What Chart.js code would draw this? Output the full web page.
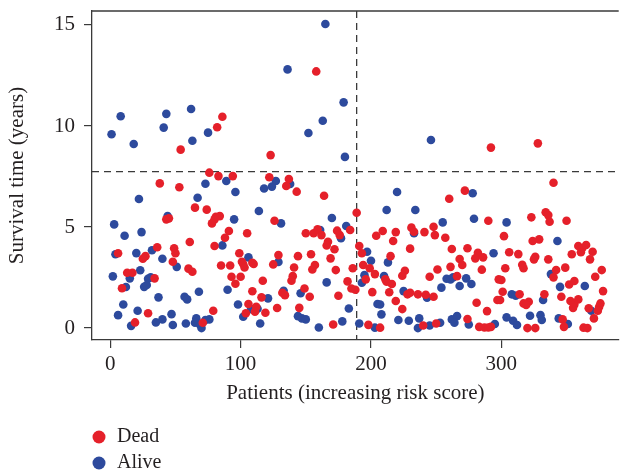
<!DOCTYPE html>
<html>
<head>
<meta charset="utf-8">
<script src="https://cdn.jsdelivr.net/npm/chart.js@4.4.1/dist/chart.umd.min.js"></script>
<style>
  html, body { margin: 0; padding: 0; background: #fff; }
  #wrap { width: 623px; height: 474px; }
</style>
</head>
<body>
<div id="wrap"><canvas id="riskPlot"></canvas></div>
<script>
// patients ordered by risk score (x) and their survival time in years (y)
const deadX = [158, 86, 82, 54, 123, 292, 328,
  38, 43, 45, 6, 36, 27, 25, 49, 50, 48, 13, 17, 34, 9, 29, 19,
  53, 76, 83, 94, 65, 74, 81, 84, 80, 78, 91, 105, 88, 61, 80, 99, 101, 102, 103, 109, 110, 85, 92, 60, 63, 93, 100, 96, 109, 116, 106, 112, 104, 111, 79, 71,
  122, 137, 135, 143, 164, 126, 150, 156, 159, 162, 174, 176, 184, 167, 166, 172, 129, 125, 144, 154, 169, 141, 140, 139, 157, 155, 173, 182, 117, 149, 153, 132, 134, 175, 119, 128, 145, 171,
  189, 209, 204, 219, 217, 231, 233, 241, 248, 249, 230, 191, 193, 215, 194, 199, 203, 196, 186, 226, 224, 245, 251, 211, 212, 216, 185, 188, 201, 214, 228, 230, 236, 242, 248, 219, 224, 198, 207, 240, 250,
  272, 260, 290, 257, 302, 262, 274, 268, 270, 282, 280, 286, 306, 313, 261, 285, 303, 316, 317, 266, 298, 300, 281, 289, 297, 299, 301, 314, 317, 274, 283, 287, 290, 292,
  340, 323, 334, 336, 337, 350, 324, 329, 326, 325, 336, 359, 362, 365, 361, 370, 368, 354, 349, 342, 340, 377, 372, 352, 356, 378, 333, 346, 321, 319, 353, 356, 359, 355, 376, 375, 374, 367, 371, 347, 348, 320, 326, 363, 366];
const deadY = [12.7, 10.46, 9.94, 8.83, 8.56, 8.93, 9.14,
  7.16, 5.38, 5.43, 3.7, 4.0, 3.56, 3.43, 3.95, 3.7, 3.28, 2.74, 2.74, 2.46, 1.97, 0.73, 0.28,
  6.97, 7.69, 7.52, 7.52, 5.96, 5.86, 5.51, 5.54, 5.38, 5.18, 4.8, 4.69, 4.47, 4.26, 4.06, 3.7, 3.28, 3.17, 3.0, 3.23, 3.17, 3.1, 3.1, 2.94, 2.79, 2.54, 2.54, 2.19, 1.82, 1.52, 1.19, 1.05, 0.73, 0.81, 0.86, 0.26,
  7.46, 7.38, 7.03, 6.75, 6.55, 5.31, 4.69, 4.69, 4.89, 4.6, 4.82, 4.6, 4.85, 4.27, 4.09, 3.9, 3.61, 3.15, 3.56, 3.65, 3.45, 3.0, 2.57, 2.34, 3.12, 2.9, 2.87, 2.31, 2.34, 1.96, 1.55, 1.75, 1.63, 1.6, 0.76, 0.99, 1.0, 0.18,
  5.71, 4.8, 4.57, 4.75, 4.31, 4.97, 4.77, 4.75, 5.01, 4.6, 3.93, 4.06, 3.7, 3.56, 3.12, 2.96, 2.67, 2.41, 2.96, 2.84, 2.59, 2.54, 2.9, 2.41, 2.29, 2.18, 1.96, 1.9, 1.78, 1.77, 1.67, 1.75, 1.67, 1.65, 1.55, 1.34, 0.94, 0.16, 0.02, 0.13, 0.23,
  6.8, 6.4, 5.31, 4.47, 4.55, 3.91, 3.95, 3.42, 3.12, 3.73, 3.45, 3.5, 3.75, 3.66, 3.03, 2.89, 2.96, 3.13, 2.96, 2.57, 2.41, 2.38, 1.25, 0.84, 1.39, 1.39, 1.8, 1.67, 1.22, 0.45, 0.06, 0.03, 0.03, 0.06,
  7.19, 5.48, 5.73, 5.59, 5.26, 5.31, 4.31, 4.39, 3.53, 3.4, 3.4, 4.06, 3.95, 4.11, 3.75, 3.78, 3.4, 3.65, 2.99, 2.87, 2.51, 2.87, 2.54, 2.16, 2.33, 1.83, 1.67, 1.55, 1.3, 1.14, 1.34, 1.17, 1.42, 1.0, 1.22, 1.05, 0.86, 0.98, 0.48, 0.43, 0.06, 0.0, 0.0, 0.02, 0.0];

const aliveX = [165, 136, 179, 8, 43, 62, 1, 41, 18, 63, 75, 163, 152, 180, 246,
  22, 44, 3, 11, 24, 4, 20, 32, 40, 51, 2, 15, 23, 31, 29, 12, 26, 28, 37, 10, 21, 6, 16, 35, 40, 47, 48,
  89, 73, 96, 67, 114, 95, 86, 106, 90, 68, 57, 59, 98, 108, 113, 102, 115, 66, 65, 69, 70, 73, 76, 58,
  127, 124, 118, 138, 170, 181, 131, 161, 177, 129, 166, 146, 133, 121, 183, 144, 147, 150, 160, 178,
  220, 212, 234, 233, 197, 200, 213, 195, 193, 210, 225, 243, 205, 207, 208, 191, 221, 229, 237, 236, 245, 203,
  278, 255, 279, 304, 294, 258, 261, 263, 254, 268, 273, 277, 308, 311, 253, 262, 266, 264, 275, 295, 304, 309, 312,
  343, 338, 345, 364, 332, 369, 322, 330, 331, 344, 351];
const aliveY = [15.05, 12.8, 11.17, 10.48, 10.6, 10.84, 9.59, 9.92, 9.11, 9.27, 9.67, 10.26, 9.65, 8.47, 9.31,
  6.39, 5.54, 5.13, 4.57, 4.75, 3.65, 3.71, 3.85, 3.43, 3.03, 2.56, 2.46, 2.86, 2.51, 2.44, 2.03, 2.04, 2.13, 1.52, 1.17, 0.86, 0.64, 0.11, 0.28, 0.43, 0.69, 0.15,
  7.28, 7.14, 6.73, 6.45, 5.79, 5.38, 4.09, 3.5, 1.9, 1.8, 1.55, 1.42, 1.17, 0.94, 0.96, 0.56, 0.23, 0.48, 0.26, 0.15, 0.0, 0.4, 0.43, 0.23,
  7.28, 7.0, 6.91, 7.13, 5.45, 5.05, 5.18, 4.85, 4.45, 3.27, 2.26, 1.72, 1.85, 1.47, 0.97, 0.59, 0.48, 0.43, 0.03, 0.33,
  6.73, 5.84, 5.84, 4.69, 3.78, 3.33, 3.25, 2.62, 2.24, 2.57, 1.83, 1.5, 1.19, 1.17, 0.68, 0.23, 0.4, 0.36, 0.48, 0.0, 0.13, 0.02,
  6.67, 5.23, 5.41, 5.23, 3.7, 2.44, 2.41, 2.51, 2.0, 2.08, 2.46, 2.18, 1.67, 1.6, 0.26, 0.43, 0.59, 0.26, 0.18, 0.2, 0.53, 0.36, 0.15,
  4.31, 2.67, 2.04, 2.08, 1.39, 0.86, 0.61, 0.64, 0.4, 0.48, 0.2];

// median risk score split and survival time cut-off (dashed lines)
const riskCutoff = 189;
const timeCutoff = 7.74;

const xTicks = [0, 100, 200, 300];
const yTicks = [0, 5, 10, 15];

const serif = "'Liberation Serif', 'DejaVu Serif', serif";
const axisColor = '#3a3a3a';
const textColor = '#231f20';

const toPoints = (xs, ys) => xs.map((x, i) => ({ x: x, y: ys[i] }));

const overlayPlugin = {
  id: 'overlay',
  beforeDatasetsDraw(chart) {
    const { ctx, chartArea, scales } = chart;
    ctx.save();
    ctx.strokeStyle = axisColor;
    ctx.lineWidth = 1.3;
    // top frame line
    ctx.beginPath();
    ctx.moveTo(chartArea.left, chartArea.top);
    ctx.lineTo(chartArea.right, chartArea.top);
    ctx.stroke();
    // dashed cut-off lines
    ctx.setLineDash([7, 5]);
    const vx = scales.x.getPixelForValue(riskCutoff);
    const hy = scales.y.getPixelForValue(timeCutoff);
    ctx.beginPath();
    ctx.moveTo(vx, chartArea.top);
    ctx.lineTo(vx, chartArea.bottom);
    ctx.moveTo(chartArea.left, hy);
    ctx.lineTo(chartArea.right, hy);
    ctx.stroke();
    ctx.restore();
  },
  afterDraw(chart) {
    // vertical legend under the axis title
    const { ctx } = chart;
    ctx.save();
    ctx.font = '20px ' + serif;
    ctx.textBaseline = 'middle';
    chart.data.datasets.forEach((ds, i) => {
      const y = 437 + i * 26;
      ctx.fillStyle = ds.backgroundColor;
      ctx.beginPath();
      ctx.arc(99, y, 6.5, 0, Math.PI * 2);
      ctx.fill();
      ctx.fillStyle = textColor;
      ctx.fillText(ds.label, 117, y);
    });
    ctx.restore();
  }
};

new Chart(document.getElementById('riskPlot'), {
  type: 'scatter',
  data: {
    datasets: [
      { label: 'Dead', data: toPoints(deadX, deadY), backgroundColor: '#e5202a', pointRadius: 4.3, pointHoverRadius: 4.3, borderWidth: 0 },
      { label: 'Alive', data: toPoints(aliveX, aliveY), backgroundColor: '#2d4a9d', pointRadius: 4.3, pointHoverRadius: 4.3, borderWidth: 0 }
    ]
  },
  options: {
    responsive: true,
    maintainAspectRatio: false,
    animation: false,
    layout: { padding: { top: 11, right: 0, bottom: 68, left: 0 } },
    plugins: { legend: { display: false }, tooltip: { enabled: false } },
    scales: {
      x: {
        type: 'linear',
        min: -14,
        max: 390,
        afterBuildTicks: s => { s.ticks = xTicks.map(v => ({ value: v })); },
        afterFit: s => { s.height = 66; s.paddingLeft = 0; s.paddingRight = 0; },
        grid: { drawOnChartArea: false, drawTicks: true, tickLength: 8, color: axisColor, lineWidth: 1.2 },
        border: { display: true, color: axisColor, width: 1.3 },
        ticks: { font: { family: serif, size: 21 }, color: textColor, padding: 4, maxRotation: 0 },
        title: { display: true, text: 'Patients (increasing risk score)', font: { family: serif, size: 21 }, color: textColor, padding: { top: 0, bottom: 0 } }
      },
      y: {
        type: 'linear',
        min: -0.59,
        max: 15.69,
        afterBuildTicks: s => { s.ticks = yTicks.map(v => ({ value: v })); },
        afterFit: s => { s.width = 92; s.paddingTop = 0; s.paddingBottom = 0; },
        grid: { drawOnChartArea: false, drawTicks: true, tickLength: 8, color: axisColor, lineWidth: 1.2 },
        border: { display: true, color: axisColor, width: 1.3 },
        ticks: { font: { family: serif, size: 21 }, color: textColor, padding: 9 },
        title: { display: true, text: 'Survival time (years)', font: { family: serif, size: 21 }, color: textColor, padding: { top: 5, bottom: 0 } }
      }
    }
  },
  plugins: [overlayPlugin]
});
</script>
</body>
</html>
